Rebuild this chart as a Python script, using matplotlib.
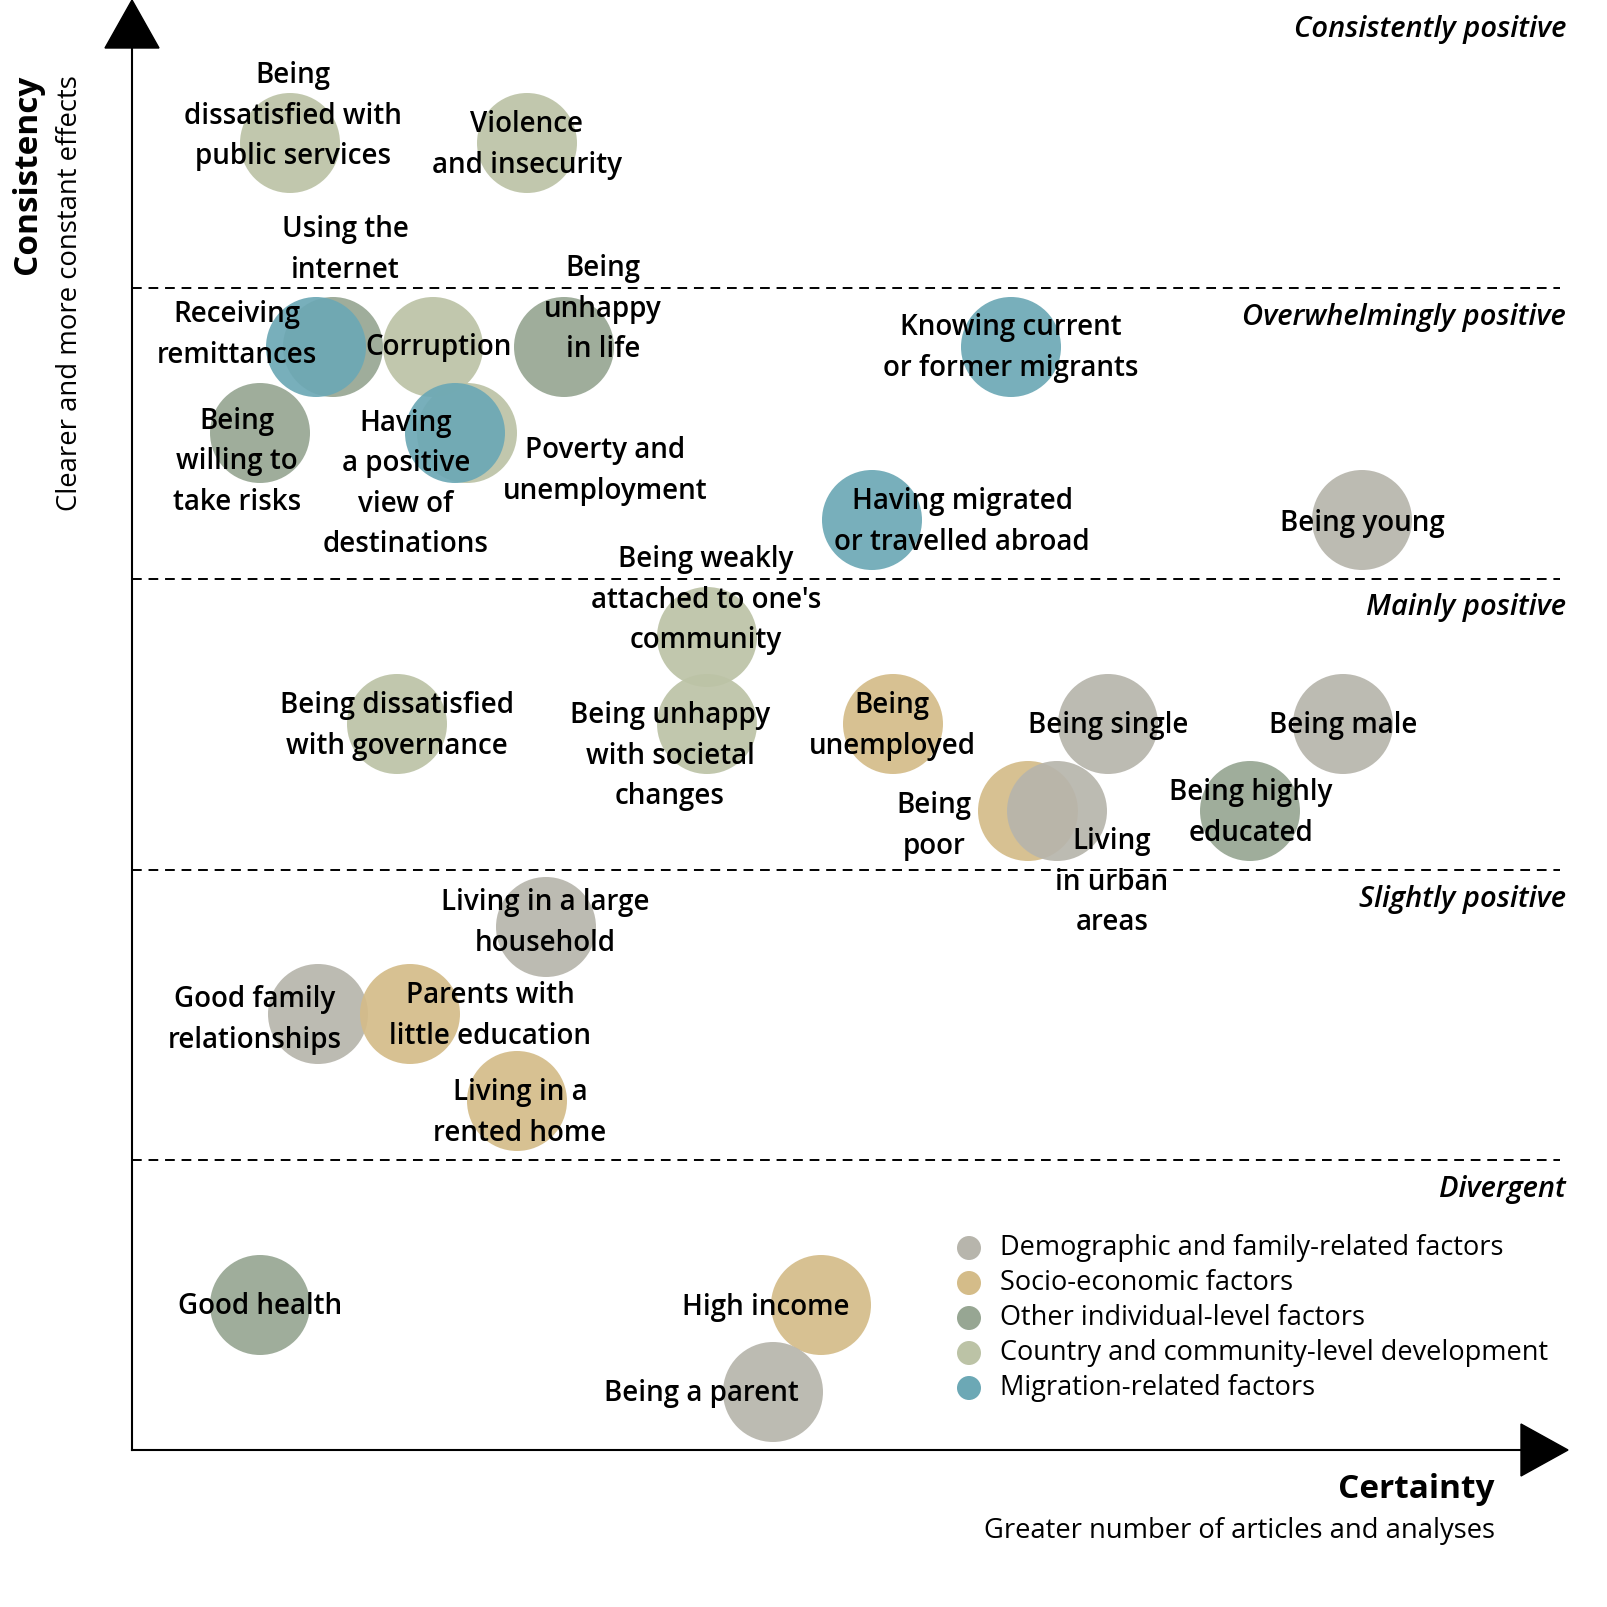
import matplotlib.pyplot as plt
from matplotlib.patches import Circle, Polygon

plt.rcParams['font.family'] = ['Open Sans', 'DejaVu Sans']

# chart space is laid out in pixels of the 1607x1607 picture (y grows downward)
factors = [
    "Being\ndissatisfied with\npublic services", "Violence\nand insecurity",
    "Using the\ninternet", "Receiving\nremittances", "Corruption",
    "Being\nunhappy\nin life", "Knowing current\nor former migrants",
    "Being\nwilling to\ntake risks", "Poverty and\nunemployment",
    "Having\na positive\nview of\ndestinations",
    "Having migrated\nor travelled abroad", "Being young",
    "Being weakly\nattached to one's\ncommunity",
    "Being dissatisfied\nwith governance", "Being unhappy\nwith societal\nchanges",
    "Being\nunemployed", "Being single", "Being male", "Being\npoor",
    "Living\nin urban\nareas", "Being highly\neducated",
    "Living in a large\nhousehold", "Good family\nrelationships",
    "Parents with\nlittle education", "Living in a\nrented home",
    "Good health", "High income", "Being a parent",
]
groups = [3, 3, 2, 4, 3, 2, 4, 2, 3, 4, 4, 0, 3, 3, 3, 1, 0, 0, 1, 0, 2,
          0, 0, 1, 1, 2, 1, 0]
certainty = [290, 527, 333, 316, 433, 564, 1011, 260, 467, 455, 872, 1362,
             707, 397, 707, 893, 1108, 1343, 1028, 1057, 1250, 546, 318, 410,
             517, 260, 821, 773]
consistency = [143, 143, 347, 347, 347, 347, 347, 433, 433, 433, 520, 520,
               637, 724, 724, 724, 724, 724, 811, 811, 811, 927, 1014, 1014,
               1101, 1305, 1305, 1392]
label_offsets = [(3, -27), (0, 2), (12, -97), (-79, -12), (6, 1), (39, -38),
                 (0, 1), (-23, 29), (138, 38), (-49, 51), (90, 2), (0, 3),
                 (-1, -37), (0, 2), (-37, 32), (-1, 2), (0, 2), (0, 2),
                 (-94, 15), (55, 71), (1, 2), (-1, -4), (-63, 6), (80, 2),
                 (3, 12), (0, 2), (-55, 2), (-72, 2)]

group_names = ["Demographic and family-related factors", "Socio-economic factors",
               "Other individual-level factors",
               "Country and community-level development",
               "Migration-related factors"]
group_colors = ["#b7b5ac", "#d4bc89", "#97a693", "#bcc3a6", "#6ca8b5"]

bands = ["Consistently positive", "Overwhelmingly positive", "Mainly positive",
         "Slightly positive", "Divergent"]
band_label_y = [30, 317, 607, 899, 1189]
band_lines = [288, 579, 870, 1160]

fig = plt.figure(figsize=(16.07, 16.07), dpi=100)
ax = fig.add_axes([0, 0, 1, 1])
ax.set_xlim(0, 1607)
ax.set_ylim(1607, 0)
ax.axis('off')

# axes with arrow heads
ax.plot([132, 132], [1450, 40], color='black', lw=1.5)
ax.plot([132, 1525], [1450, 1450], color='black', lw=1.5)
ax.add_patch(Polygon([[105, 48], [159, 48], [132, 0]], color='black'))
ax.add_patch(Polygon([[1521, 1424], [1521, 1476], [1568, 1450]], color='black'))

for yl in band_lines:
    ax.plot([132, 1560], [yl, yl], color='black', lw=1.4, ls=(0, (5, 3.5)))
for name, yb in zip(bands, band_label_y):
    ax.text(1566, yb, name, ha='right', va='center', fontsize=21,
            fontweight='semibold', style='italic')

for i in range(len(factors)):
    c = Circle((certainty[i], consistency[i]), 50, color=group_colors[groups[i]],
               alpha=0.92, lw=0, zorder=2)
    ax.add_patch(c)
for i in range(len(factors)):
    dx, dy = label_offsets[i]
    ax.text(certainty[i] + dx, consistency[i] + dy, factors[i], ha='center',
            va='center', fontsize=20, fontweight='semibold', linespacing=1.53,
            zorder=3)

# legend
for k, (name, col) in enumerate(zip(group_names, group_colors)):
    yk = 1248 + k * 35
    ax.add_patch(Circle((969, yk), 12, color=col, lw=0))
    ax.text(1000, yk, name, ha='left', va='center', fontsize=19.5)

ax.text(28, 75, "Consistency", rotation=90, ha='center', va='top',
        fontsize=24, fontweight='bold')
ax.text(70, 75, "Clearer and more constant effects", rotation=90, ha='center',
        va='top', fontsize=19.8)
ax.text(1495, 1490, "Certainty", ha='right', va='center', fontsize=24,
        fontweight='bold')
ax.text(1495, 1531, "Greater number of articles and analyses", ha='right',
        va='center', fontsize=19.7)

fig.savefig('out.png', dpi=100)
